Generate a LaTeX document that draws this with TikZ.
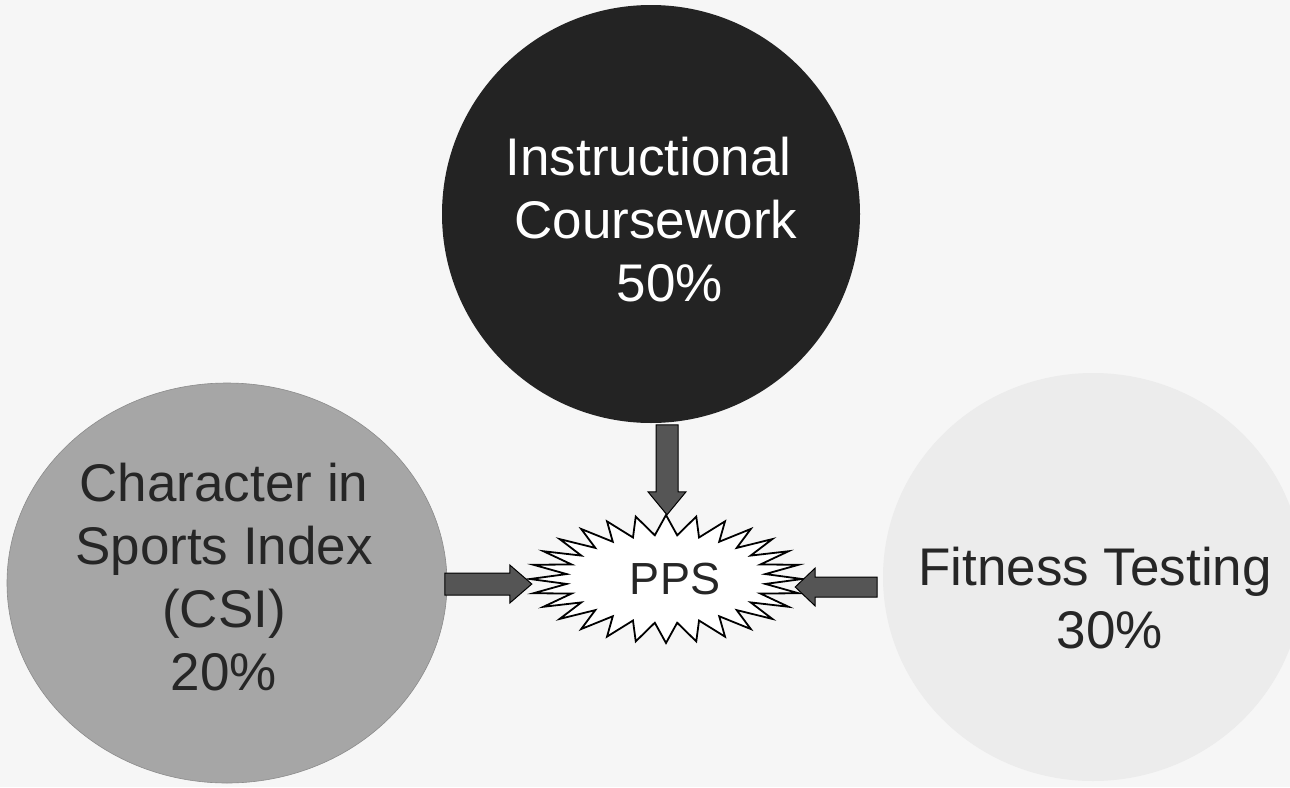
\documentclass[tikz,border=0pt]{standalone}
\usepackage{fontspec}
\setmainfont{Liberation Sans}
\usetikzlibrary{calc,shapes.geometric}
\definecolor{bgc}{HTML}{F6F6F6}
\definecolor{darkc}{HTML}{232323}
\definecolor{midc}{HTML}{A6A6A6}
\definecolor{lightc}{HTML}{ECECEC}
\definecolor{arrc}{HTML}{555555}
\begin{document}
\begin{tikzpicture}[x=1pt,y=-1pt,
  bigfont/.style={font=\fontsize{53}{63}\selectfont, align=center, inner sep=0pt},
  blob/.style={ellipse, inner sep=0pt},
  barrow/.style={fill=arrc, draw=black, line width=1pt, line join=miter},
  burst/.style={fill=white, draw=black, line width=1.8pt, line join=miter}]
\fill[bgc] (0,0) rectangle (1290,787);
\useasboundingbox (0,0) rectangle (1290,787);
% circles
\node[blob, fill=lightc, minimum width=420, minimum height=408] (ft) at (1093,577) {};
\node[blob, fill=midc, draw=black!45, line width=0.6pt, minimum width=440, minimum height=400] (csi) at (227,583) {};
\node[blob, fill=darkc, minimum width=418, minimum height=418] (ic) at (651,214) {};
% starburst
\node[blob, minimum width=272, minimum height=128] (pps) at (666,579) {};
\draw[burst] (pps.east) \foreach \i in {1,...,55}{
  -- ($(pps.center)+({ifthenelse(isodd(\i),100,136)*cos(\i*6.4285714)},{ifthenelse(isodd(\i),44,64)*sin(\i*6.4285714)})$)
  } -- cycle;
% block arrows
\draw[barrow] ($(pps.north)+(1,0)$) -- ++(-19,-23) -- ++(8,0) -- ++(0,-67) -- ++(22,0) -- ++(0,67) -- ++(8,0) -- cycle;
\draw[barrow] ($(pps.west)+(2,5)$) -- ++(-22,-19) -- ++(0,8) -- ++(-65,0) -- ++(0,22) -- ++(65,0) -- ++(0,8) -- cycle;
\draw[barrow] ($(pps.east)+(-7,8)$) -- ++(20,-19) -- ++(0,9) -- ++(62,0) -- ++(0,20) -- ++(-62,0) -- ++(0,9) -- cycle;
% texts
\node[bigfont, text=white] (icT) at (652,219.5) {Instructional\hspace*{7pt}\\\hspace*{8pt}Coursework\\\hspace*{36pt}50\%};
\node[bigfont, text=black!85] (csiT) at (224,577) {Character in\\Sports Index\\(CSI)\\20\%};
\node[bigfont, text=black!85] (ftT) at (1100,598) {Fitness Testing\hspace*{10pt}\\\hspace*{20pt}30\%};
\node[font=\fontsize{45}{54}\selectfont, inner sep=0pt, text=black!85] (ppsT) at (675,579) {PPS};
\end{tikzpicture}
\end{document}
